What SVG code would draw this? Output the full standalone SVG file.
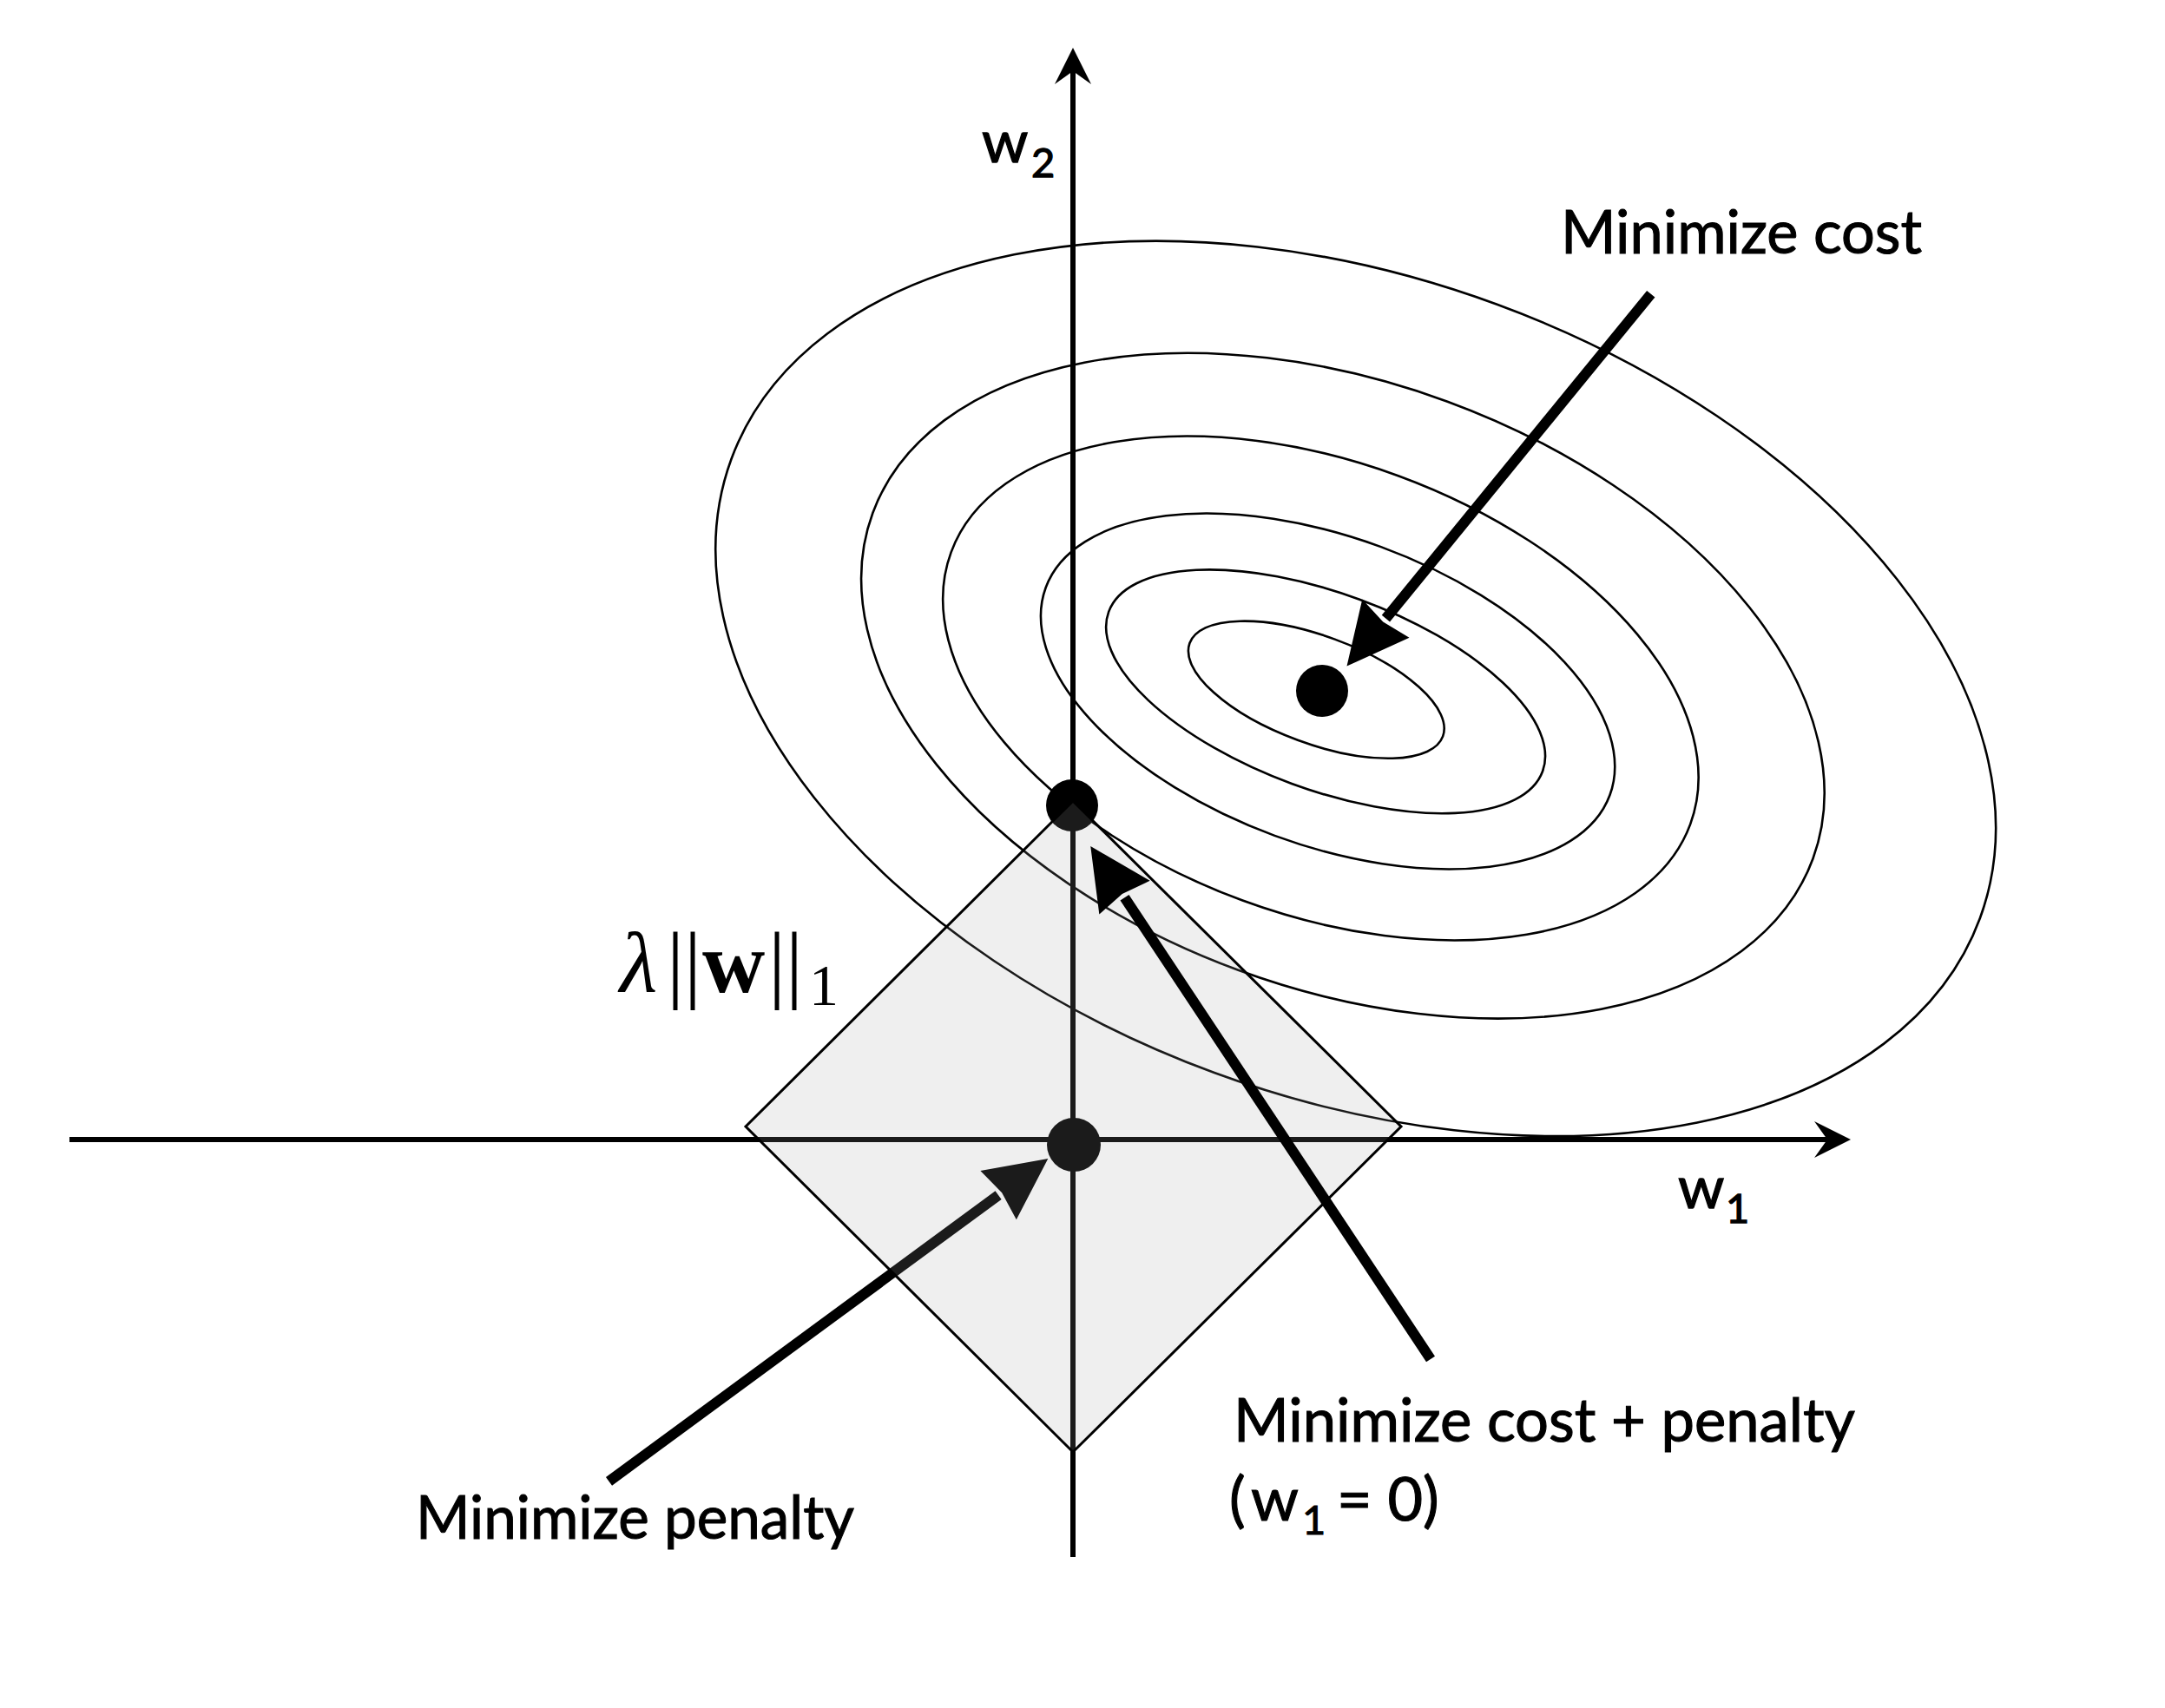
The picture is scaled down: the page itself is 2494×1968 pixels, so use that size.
<svg xmlns="http://www.w3.org/2000/svg" width="2494" height="1968" viewBox="0 0 2494 1968">
<style>
  .axis { stroke: #000; stroke-width: 6; fill: none; }
  .contour { stroke: #000; stroke-width: 2.6; fill: none; }
  .dot { fill: #000; }
  .arrow { stroke: #000; stroke-width: 12; fill: none; stroke-linecap: butt; }
  .lbl { font-family: Lato, "Liberation Sans", sans-serif; font-size: 70px; fill: #000; stroke: #000; stroke-width: 1.1; }
  .ax { font-family: Lato, "Liberation Sans", sans-serif; font-size: 68px; fill: #000; stroke: #000; stroke-width: 1.3; }
  .sub { font-size: 47px; }
  .math { font-family: "Liberation Serif", "DejaVu Serif", serif; font-size: 100px; fill: #000; }
</style>
<defs>
  <marker id="axhead" markerUnits="userSpaceOnUse" orient="auto" viewBox="0 -25 50 50" markerWidth="50" markerHeight="50" refX="15" refY="0">
    <path d="M0,-21 L42,0 L0,21 L15,0 z" fill="#000"/>
  </marker>
  <marker id="bighead" markerUnits="userSpaceOnUse" orient="auto" viewBox="-2 -40 80 80" markerWidth="80" markerHeight="80" refX="0" refY="0">
    <path d="M0,-35 L71,0 L0,35 L5,0 z" fill="#000"/>
  </marker>
</defs>
<rect width="2494" height="1968" fill="#fff"/>

<g id="axes">
  <line class="axis" x1="1236" y1="1794" x2="1236" y2="82" marker-end="url(#axhead)"/>
  <line class="axis" x1="80" y1="1313" x2="2105" y2="1313" marker-end="url(#axhead)"/>
</g>

<g id="cost-contours">
  <ellipse class="contour" cx="1561.7" cy="793.4" rx="766.3" ry="471.6" transform="rotate(20.2 1561.7 793.4)"/>
  <ellipse class="contour" cx="1546.9" cy="790.2" rx="577" ry="349" transform="rotate(20.2 1546.9 790.2)"/>
  <ellipse class="contour" cx="1521.4" cy="793" rx="453.7" ry="260.6" transform="rotate(20.2 1521.4 793)"/>
  <ellipse class="contour" cx="1529.6" cy="796.5" rx="346.2" ry="177.3" transform="rotate(20.2 1529.6 796.5)"/>
  <ellipse class="contour" cx="1527.1" cy="796.8" rx="266.3" ry="113.1" transform="rotate(20.2 1527.1 796.8)"/>
  <ellipse class="contour" cx="1516.3" cy="794.7" rx="155.4" ry="61.9" transform="rotate(20.2 1516.3 794.7)"/>
</g>

<g id="dot-min-cost">
  <circle class="dot" cx="1523" cy="796" r="30"/>
</g>
<g id="dot-min-cost-penalty">
  <circle class="dot" cx="1235" cy="928" r="30"/>
</g>
<g id="dot-min-penalty">
  <circle class="dot" cx="1237" cy="1319" r="31"/>
</g>

<g id="connectors">
  <line id="arrow-penalty" class="arrow" x1="701.5" y1="1706.8" x2="1150.1" y2="1377.1" marker-end="url(#bighead)"/>
</g>

<g id="penalty-region">
  <polygon points="859,1298 1236,923 1614,1298 1236,1673" fill="#a0a0a0" fill-opacity="0.17" stroke="#000" stroke-width="3" stroke-linejoin="miter"/>
</g>

<g id="connectors-top">
  <line id="arrow-cost-penalty" class="arrow" x1="1648" y1="1566" x2="1295.5" y2="1034.2" marker-end="url(#bighead)"/>
  <line id="arrow-cost" class="arrow" x1="1901.8" y1="338.7" x2="1596.4" y2="712.6" marker-end="url(#bighead)"/>
</g>

<g id="labels">
  <text class="ax" x="1131" y="187">w<tspan class="sub" x="1188" y="204">2</tspan></text>
  <text class="ax" x="1933" y="1392">w<tspan class="sub" x="1988" y="1409">1</tspan></text>
  <text class="math" y="1143"><tspan x="714" font-style="italic">λ</tspan><tspan x="768">||</tspan><tspan x="809" font-weight="bold">w</tspan><tspan x="885">||</tspan><tspan x="932" y="1158" font-size="68">1</tspan></text>
  <text class="lbl" x="1798" y="292" textLength="416" lengthAdjust="spacingAndGlyphs">Minimize cost</text>
  <text class="lbl" x="479" y="1773" textLength="505" lengthAdjust="spacingAndGlyphs">Minimize penalty</text>
  <text class="lbl" x="1421" y="1661" textLength="716" lengthAdjust="spacingAndGlyphs">Minimize cost + penalty</text>
  <text class="lbl" y="1752" font-size="74"><tspan x="1416">(</tspan><tspan x="1441">w</tspan><tspan class="sub" x="1500" y="1768">1</tspan><tspan x="1540" y="1752">= 0)</tspan></text>
</g>
</svg>
